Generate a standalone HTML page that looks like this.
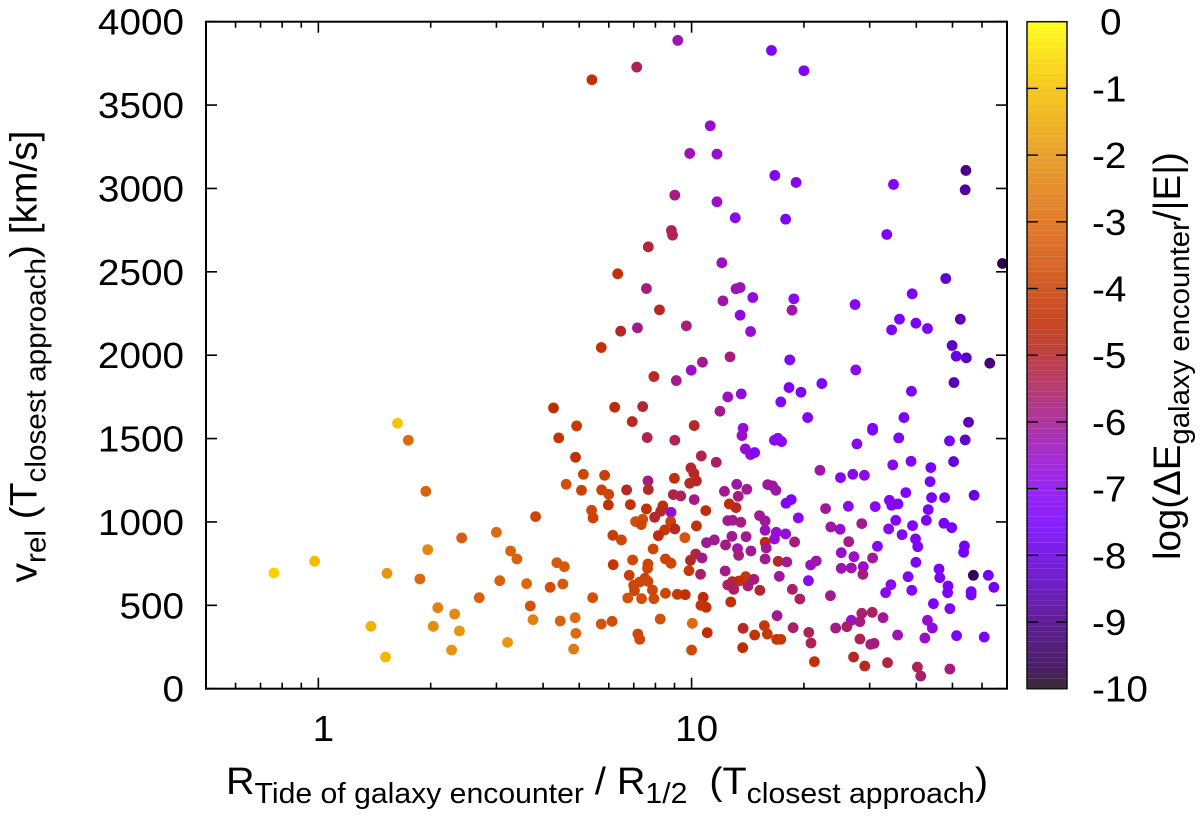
<!DOCTYPE html>
<html lang="en">
<head>
<meta charset="utf-8">
<title>Relative velocity vs tidal radius scatter plot</title>
<style>
html,body{margin:0;padding:0;background:#fff;}
svg{display:block;font-family:"Liberation Sans",Arial,sans-serif;fill:#000;}
</style>
</head>
<body>
<svg id="chart" width="1200" height="817" viewBox="0 0 1200 817" xmlns="http://www.w3.org/2000/svg">
  <g id="colorbar-bands"></g>
  <g id="points"></g>
  <g id="ticks"></g>
  <rect x="206" y="21.7" width="801" height="667" fill="none" stroke="#000" stroke-width="2"/>
  <rect x="1027" y="21.7" width="40" height="667" fill="none" stroke="#111" stroke-width="1.5"/>
  <g id="labels" font-size="36.5"></g>
  <text transform="translate(36.5,582.5) rotate(-90)" font-size="38" textLength="452" lengthAdjust="spacingAndGlyphs" xml:space="preserve">v<tspan font-size="29" dy="9">rel</tspan><tspan dy="-9"> (T</tspan><tspan font-size="29" dy="9">closest approach</tspan><tspan dy="-9">) [km/s]</tspan></text>
  <text x="226" y="794" font-size="38" textLength="762" lengthAdjust="spacingAndGlyphs" xml:space="preserve">R<tspan font-size="29" dy="9">Tide of galaxy encounter</tspan><tspan dy="-9"> / R</tspan><tspan font-size="29" dy="9">1/2</tspan><tspan dy="-9">  (T</tspan><tspan font-size="29" dy="9">closest approach</tspan><tspan dy="-9">)</tspan></text>
  <text transform="translate(1180,560) rotate(-90)" font-size="38" textLength="408" lengthAdjust="spacingAndGlyphs" xml:space="preserve">log(ΔE<tspan font-size="29" dy="9">galaxy encounter</tspan><tspan dy="-9">/|E|)</tspan></text>
</svg>
<script>
// Tick labels
const yTickValues = [0, 500, 1000, 1500, 2000, 2500, 3000, 3500, 4000];
const xMajorTicks = [1, 10];
const xMinorTicks = [0.5, 0.6, 0.7, 0.8, 0.9, 2, 3, 4, 5, 6, 7, 8, 9, 20, 30, 40, 50, 60, 70];
const cbTickValues = [0, -1, -2, -3, -4, -5, -6, -7, -8, -9, -10];

// Series: log10(R_tide / R_1/2)
const logRadiusRatio = [
.212,.241,.288,-.119,-.010,.184,.272,.293,.384,.477,.515,.532,.582,.630,.794,.692,.644,.689,.710,.767,
.664,.705,.759,.778,.777,.732,.736,.789,.812,.790,.639,.659,.655,.621,.558,.486,.431,.320,.365,.308,
.378,.141,.180,.357,.507,.568,.575,.648,.688,.690,.684,.735,.758,.787,.758,
1.103,1.029,.999,.959,.899,1.263,1.261,1.293,1.349,1.239,1.097,1.133,1.076,1.311,.869,.841,1.007,.881,.955,1.138,
1.135,1.222,1.231,1.241,1.144,1.158,1.169,1.026,1.066,1.344,.998,1.006,1.013,.995,.954,.883,.884,.826,1.121,1.148,
1.088,1.125,1.204,1.217,1.226,1.267,1.253,1.286,.951,.971,1.007,1.101,1.119,1.038,.836,.879,.923,.917,.901,.945,
1.182,1.197,1.197,1.097,1.110,1.132,.850,.869,.865,.944,1.013,.955,.928,.911,.982,.897,1.227,1.252,1.222,1.276,
1.108,1.091,1.146,1.061,1.040,1.123,1.126,1.159,1.197,1.200,1.197,1.232,1.255,1.011,.997,1.028,.930,.945,.842,.883,
.882,.993,1.024,1.090,1.235,1.319,1.334,1.313,.833,.875,.883,.861,.845,.895,.847,.930,.962,.983,.829,.866,
.899,1.031,1.025,1.039,1.105,1.145,1.167,1.127,1.109,1.097,1.151,1.113,1.183,1.270,1.290,1.229,1.272,1.314,1.320,1.329,
1.138,1.195,1.169,1.203,1.228,1.239,1.137,1.042,1.000,1.002,.916,.856,.861,
1.440,1.709,1.736,1.799,1.589,1.703,1.569,1.485,1.485,1.742,1.555,1.443,1.691,1.733,1.588,1.539,1.702,1.641,1.639,1.643,
1.678,1.757,1.574,1.399,1.432,1.463,1.492,1.420,1.359,1.530,1.553,1.536,1.634,1.629,1.547,1.528,1.592,1.564,1.676,1.697,
1.373,1.398,1.456,1.421,1.498,1.600,1.606,1.731,1.729,1.401,1.435,1.485,1.601,1.401,1.428,1.460,1.459,1.580,1.663,1.665,
1.755,1.795,1.810,1.534,1.520,1.590,1.687,1.686,1.749,1.749,1.372,1.648,1.692,1.456,1.484,1.513,1.428,1.451,1.416,1.386,
1.632,1.645,1.552,1.710,1.784,1.625,1.451,1.480,1.489,1.434,1.464,1.525,1.605,1.614,1.692,
.963,1.214,1.301,.853,.733,1.050,.995,1.068,1.223,1.280,1.541,1.735,1.733,.955,1.068,1.117,1.252,1.523,.946,.949,
.884,1.081,1.833,.802,1.681,1.591,.879,1.119,1.130,1.084,1.164,1.274,1.269,1.438,.914,1.130,1.720,1.557,1.601,1.632,
1.536,.855,.810,.986,1.158,1.698
];

// Series: relative velocity at closest approach, km/s
const relVelocity = [
1592,1490,1184,694,764,692,658,834,904,938,826,778,1032,1684,1688,1576,1504,1388,1286,1280,
1226,1190,1192,1166,1102,1070,1024,920,892,744,756,732,628,608,630,648,546,486,448,374,
346,374,190,232,278,496,414,406,426,332,238,546,388,404,2046,
1990,1958,1910,1848,1872,1972,1806,1778,1830,1720,1750,1768,1664,1626,1692,1602,1578,1506,1490,1562,
1518,1490,1502,1482,1438,1404,1416,1396,1358,1310,1324,1292,1246,1232,1262,1246,1194,1192,1226,1196,
1184,1154,1224,1216,1190,1134,1112,1024,1164,1156,1134,1108,1086,1068,1104,1078,1096,1064,1028,1058,
1038,1006,950,1008,1010,998,1002,1016,984,1002,976,958,952,918,906,838,938,928,898,880,
914,862,912,892,876,840,800,826,878,844,778,764,760,808,770,784,778,752,772,748,
722,708,686,706,674,742,766,648,680,662,644,640,620,592,588,572,566,564,544,540,
540,548,500,488,520,672,656,646,642,622,616,596,590,596,538,438,366,338,274,162,
362,378,322,328,296,296,246,336,232,392,418,328,296,
1912,1994,1984,1952,1784,1836,1626,1562,1550,1598,1504,1468,1486,1492,1364,1342,1362,1326,1242,1146,
1146,1160,1176,1266,1286,1280,1092,1094,1080,1130,1108,1100,1074,1010,1010,958,978,924,992,966,
970,956,990,882,854,898,852,856,818,816,792,784,758,722,724,732,686,672,718,666,
680,680,608,624,576,590,616,576,582,562,558,510,480,452,458,426,410,402,372,364,
410,364,322,318,310,304,298,266,272,190,136,156,130,76,118,
3888,3828,3706,3728,3652,3376,3210,3206,3078,3036,3024,3108,2992,2960,2920,2824,2816,2724,2748,2720,
2650,2554,2550,2488,2460,2368,2400,2398,2406,2326,2346,2338,2270,2304,2272,2240,2216,2216,2192,2160,
2152,2164,2144,2176,2142,2058
];

// Series: log(dE_galaxy encounter / |E|)
const logEnergy = [
-0.9,-3,-3.2,-0.7,-1.1,-2,-3,-2.3,-3.3,-3,-3.2,-3.2,-3.9,-4.5,-4.6,-4.2,-4.3,-4.4,-3.9,-4.1,
-3.7,-4,-4,-3.9,-4.4,-3.9,-4,-4.1,-3.9,-4.3,-3.4,-3.4,-3.4,-3.7,-3.1,-3.2,-3.2,-2.5,-2.3,-2.2,
-2,-1.3,-1.2,-2,-1.9,-3.6,-2.5,-3.2,-3,-3,-2.6,-3.6,-3.6,-3.7,-4.4,
-5.8,-6,-6.5,-5.9,-4.9,-7.2,-7.3,-7.3,-7.3,-7.2,-6.4,-6.8,-6,-7.2,-5.1,-4.9,-5,-5.3,-5.4,-6.7,
-6.5,-6.9,-7,-7,-6.7,-6.6,-7.2,-5.3,-5.6,-6.2,-5.1,-5,-4.9,-4.9,-4.4,-5.8,-5,-5,-6.2,-6,
-6,-5.8,-6.1,-6.2,-6.2,-7.2,-7.2,-7,-5.3,-5.4,-5.9,-4.5,-4.9,-4.6,-4.4,-4.4,-4.6,-4.9,-5.1,-6.7,
-6,-6.1,-6.4,-6,-6,-5.8,-3.7,-3.7,-3.9,-4,-4.4,-4.9,-4.2,-4.6,-3.5,-3.9,-6.5,-6.7,-6.7,-5.8,
-6,-5.8,-6,-6,-6,-6.2,-5.7,-6,-4.6,-6,-6,-5,-6,-5.2,-5,-6,-4,-3.9,-3.8,-3.9,
-3.9,-4.2,-5.6,-5.9,-6.1,-6.5,-6.2,-7,-4.1,-4,-3.9,-3.9,-3.9,-3.9,-3.9,-3.9,-4.2,-4.4,-3.6,-3.7,
-3.8,-4.6,-4.3,-4.4,-4.4,-4.2,-5.8,-4.4,-5,-5.5,-5.7,-5.5,-5.1,-5.6,-5.5,-6,-5.6,-5.4,-5.4,-4.4,
-5,-4.2,-4.3,-4.2,-4.3,-4.2,-4.5,-4.5,-3.8,-3,-3.6,-3.8,-3.8,
-7,-7.9,-8.4,-9.1,-7.4,-8.4,-7.4,-7.3,-7.3,-8.4,-7.3,-7,-7.6,-8.2,-7.2,-7,-8,-7.5,-7.4,-7.4,
-7.5,-8,-7.2,-7.1,-7,-6.9,-7,-7,-6.1,-7.1,-7.2,-7.1,-7.4,-7.4,-7.2,-7,-7.3,-7.2,-7.5,-7.5,
-6.2,-6.6,-6,-5.9,-7,-7.3,-7.4,-7.6,-7.6,-6.6,-6.5,-6.1,-7.4,-6.3,-6.3,-6.6,-5.8,-7.2,-7.4,-7.4,
-9.6,-7.6,-7.6,-6.9,-7,-7.1,-7.4,-7.4,-7.5,-7.5,-6,-7.4,-7.3,-5.6,-5.5,-6.1,-6.6,-5.8,-5.6,-5.9,
-6.6,-6.8,-6.3,-7.4,-7.4,-6.5,-5.4,-5.8,-5.8,-5,-4.9,-5.2,-5.4,-5.6,-5.8,
-6.3,-7.3,-7.3,-5.4,-4.4,-6.6,-6.3,-6.6,-7.2,-7.1,-7.2,-9,-8.8,-5.8,-6.5,-7,-7.4,-7.3,-5.5,-5.3,
-5.1,-6.4,-9.7,-4.4,-8.2,-7.4,-5.8,-6.3,-6.3,-6.2,-6.8,-7,-6.2,-7.1,-4.9,-6.9,-8.4,-7.4,-7.4,-7.4,
-7.4,-5.9,-5,-5.7,-6.7,-8.2
];

// Palette anchors: value on colour scale and its colour
const paletteValues = [0,-0.7,-1,-2,-3,-3.9,-4.5,-5,-5.5,-6,-6.5,-7,-7.5,-8,-9,-9.7,-10];
const paletteColors = ["#ffff00","#f9d000","#f5c000","#e59510","#dd6a10","#cc4608","#bf2d05","#b52828","#ad2060","#a01a90","#9a10c8","#8a08f0","#7800ff","#6500e0","#4a0088","#300050","#201018"];

const SVGNS = "http://www.w3.org/2000/svg";
const PLOT = {left: 206, right: 1007, top: 21.7, bottom: 688.7};
const X_MIN = 0.5, X_MAX = 70, Y_MAX = 4000;

function xFromLog(l) {
  const a = Math.log10(X_MIN), b = Math.log10(X_MAX);
  return PLOT.left + (l - a) / (b - a) * (PLOT.right - PLOT.left);
}
function yFromVelocity(v) {
  return PLOT.bottom - v / Y_MAX * (PLOT.bottom - PLOT.top);
}
function yFromColorValue(c) {
  return PLOT.top + (-c) / 10 * (PLOT.bottom - PLOT.top);
}
function colorFor(c) {
  let i = 0;
  while (i < paletteValues.length - 2 && c < paletteValues[i + 1]) i++;
  const t = Math.max(0, Math.min(1, (paletteValues[i] - c) / (paletteValues[i] - paletteValues[i + 1])));
  const p = parseInt(paletteColors[i].slice(1), 16), q = parseInt(paletteColors[i + 1].slice(1), 16);
  const mix = s => Math.round(((p >> s) & 255) * (1 - t) + ((q >> s) & 255) * t);
  return "rgb(" + mix(16) + "," + mix(8) + "," + mix(0) + ")";
}
function tickLine(parent, name, x1, y1, x2, y2, width) {
  const l = document.createElementNS(SVGNS, "line");
  l.setAttribute("x1", x1);
  l.setAttribute("y1", y1);
  l.setAttribute("x2", x2);
  l.setAttribute("y2", y2);
  l.setAttribute("stroke", "#000");
  l.setAttribute("stroke-width", width);
  
  
  parent.appendChild(l);
}
function label(parent, name, x, y, anchor, str) {
  const t = document.createElementNS(SVGNS, "text");
  t.setAttribute("transform", "translate(" + x + "," + y + ") scale(1.06,1)");
  t.setAttribute("text-anchor", anchor);
  t.textContent = str;
  
  
  parent.appendChild(t);
}

// Colour bar bands
const barGroup = document.getElementById("colorbar-bands");
const BAND_COUNT = 128;
for (let i = 0; i < BAND_COUNT; i++) {
  const c0 = -10 * i / BAND_COUNT, c1 = -10 * (i + 1) / BAND_COUNT;
  const r = document.createElementNS(SVGNS, "rect");
  r.setAttribute("x", 1027);
  r.setAttribute("width", 40);
  r.setAttribute("y", yFromColorValue(c0));
  r.setAttribute("height", yFromColorValue(c1) - yFromColorValue(c0));
  r.setAttribute("fill", colorFor((c0 + c1) / 2));
  r.setAttribute("fill-opacity", "0.88");
  
  
  barGroup.appendChild(r);
}

// Scatter points
const pointGroup = document.getElementById("points");
logRadiusRatio.forEach(function (l, i) {
  const c = document.createElementNS(SVGNS, "circle");
  c.setAttribute("cx", xFromLog(l));
  c.setAttribute("cy", yFromVelocity(relVelocity[i]));
  c.setAttribute("r", 5.4);
  c.setAttribute("fill", colorFor(logEnergy[i]));
  
  
  pointGroup.appendChild(c);
});

// Ticks and labels
const tickGroup = document.getElementById("ticks");
const labelGroup = document.getElementById("labels");
yTickValues.forEach(function (v) {
  const y = yFromVelocity(v);
  tickLine(tickGroup, "y-tick-left", PLOT.left, y, PLOT.left + 11, y, 1.6);
  tickLine(tickGroup, "y-tick-right", PLOT.right, y, PLOT.right - 11, y, 1.6);
  label(labelGroup, "y-tick-label", 184, y + 13, "end", String(v));
});
xMajorTicks.forEach(function (v) {
  const x = xFromLog(Math.log10(v));
  tickLine(tickGroup, "x-major-tick-bottom", x, PLOT.bottom, x, PLOT.bottom - 11, 1.6);
  tickLine(tickGroup, "x-major-tick-top", x, PLOT.top, x, PLOT.top + 11, 1.6);
  label(labelGroup, "x-tick-label", x + 5, 741, "middle", String(v));
});
xMinorTicks.forEach(function (v) {
  const x = xFromLog(Math.log10(v));
  tickLine(tickGroup, "x-minor-tick-bottom", x, PLOT.bottom, x, PLOT.bottom - 6, 1.6);
  tickLine(tickGroup, "x-minor-tick-top", x, PLOT.top, x, PLOT.top + 6, 1.6);
});
cbTickValues.forEach(function (v) {
  const y = yFromColorValue(v);
  if (v !== 0 && v !== -10) {
    tickLine(tickGroup, "colorbar-tick-left", 1027, y, 1038, y, 1.4);
    tickLine(tickGroup, "colorbar-tick-right", 1067, y, 1056, y, 1.4);
  }
  // "0" has no minus sign, so it starts at the digit column
  label(labelGroup, "colorbar-tick-label", v === 0 ? 1100 : 1092, y + 13, "start", String(v));
});
</script>
</body>
</html>
